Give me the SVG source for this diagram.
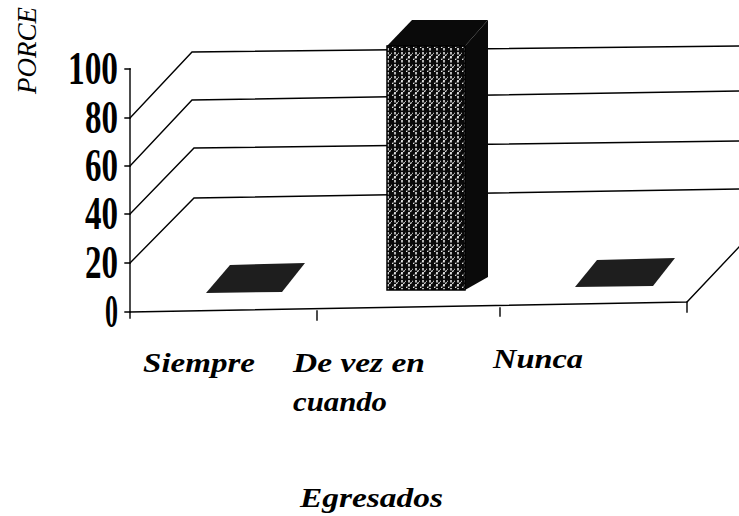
<svg xmlns="http://www.w3.org/2000/svg" width="739" height="516" viewBox="0 0 739 516">
<style>
.ln{stroke:#000;stroke-width:1.4;fill:none;stroke-linecap:square}
.num{font-family:"Liberation Serif","Times New Roman",serif;font-size:46px;font-weight:bold;fill:#000;text-anchor:end}
.cat{font-family:"Liberation Serif","Times New Roman",serif;font-style:italic;font-weight:bold;font-size:27px;fill:#000}
.ylab{font-family:"Liberation Serif","Times New Roman",serif;font-style:italic;font-size:27px;fill:#000}
</style>
<defs>
<pattern id="hatch" width="7" height="12" patternUnits="userSpaceOnUse">
<rect width="7" height="12" fill="#0a0a0a"/>
<line x1="3" y1="0" x2="3" y2="12" stroke="#fff" stroke-width="1.4" stroke-dasharray="2.5 1.5"/>
<line x1="0" y1="12" x2="7" y2="5" stroke="#eee" stroke-width="1.2" stroke-dasharray="2 1"/>
</pattern>
</defs>
<rect width="739" height="516" fill="#fff"/>
<g id="grid">
<path class="ln" d="M130,118 L192,52 L739,46"/>
<path class="ln" d="M130,166 L192,100 L739,91"/>
<path class="ln" d="M130,214 L194,148 L739,141"/>
<path class="ln" d="M130,263 L194,198 L739,189"/>
</g>
<g id="axes">
<path class="ln" d="M130,69 L130,318"/>
<path class="ln" d="M125,69 L130,69 M125,118 L130,118 M125,166 L130,166 M125,214 L130,214 M125,263 L130,263 M125,312 L130,312"/>
<path class="ln" d="M130,312 L687,302 L739,247"/>
<path class="ln" d="M317,311 L317,320 M500,308 L500,316 M687,302 L687,312"/>
</g>
<g id="ticklabels">
<text class="num" x="118" y="84" textLength="50" lengthAdjust="spacingAndGlyphs">100</text>
<text class="num" x="118" y="133" textLength="33" lengthAdjust="spacingAndGlyphs">80</text>
<text class="num" x="118" y="181" textLength="33" lengthAdjust="spacingAndGlyphs">60</text>
<text class="num" x="118" y="229" textLength="33" lengthAdjust="spacingAndGlyphs">40</text>
<text class="num" x="118" y="278" textLength="33" lengthAdjust="spacingAndGlyphs">20</text>
<text class="num" x="118" y="327" textLength="13" lengthAdjust="spacingAndGlyphs">0</text>
</g>
<g id="bar-siempre">
<polygon points="206,293 230,265 305,263 282,292" fill="#1e1e1e"/>
</g>
<g id="bar-devez">
<polygon points="387,46 412,20 488,20 465,46" fill="#0a0a0a"/>
<polygon points="465,46 488,20 488,277 465,290" fill="#0a0a0a"/>
<rect x="387" y="46" width="78" height="244" fill="url(#hatch)" stroke="#000" stroke-width="1.5"/>
</g>
<g id="bar-nunca">
<polygon points="575,287 597,260 675,258 653,286" fill="#1e1e1e"/>
</g>
<g id="labels">
<text class="ylab" x="0" y="0" transform="translate(36,94) rotate(-90)">PORCE</text>
<text class="cat" x="143" y="372" textLength="112" lengthAdjust="spacingAndGlyphs">Siempre</text>
<text class="cat" x="293" y="372" textLength="132" lengthAdjust="spacingAndGlyphs">De vez en</text>
<text class="cat" x="293" y="411" textLength="94" lengthAdjust="spacingAndGlyphs">cuando</text>
<text class="cat" x="493" y="368" textLength="90" lengthAdjust="spacingAndGlyphs">Nunca</text>
<text class="cat" x="300" y="507" textLength="143" lengthAdjust="spacingAndGlyphs">Egresados</text>
</g>
</svg>
